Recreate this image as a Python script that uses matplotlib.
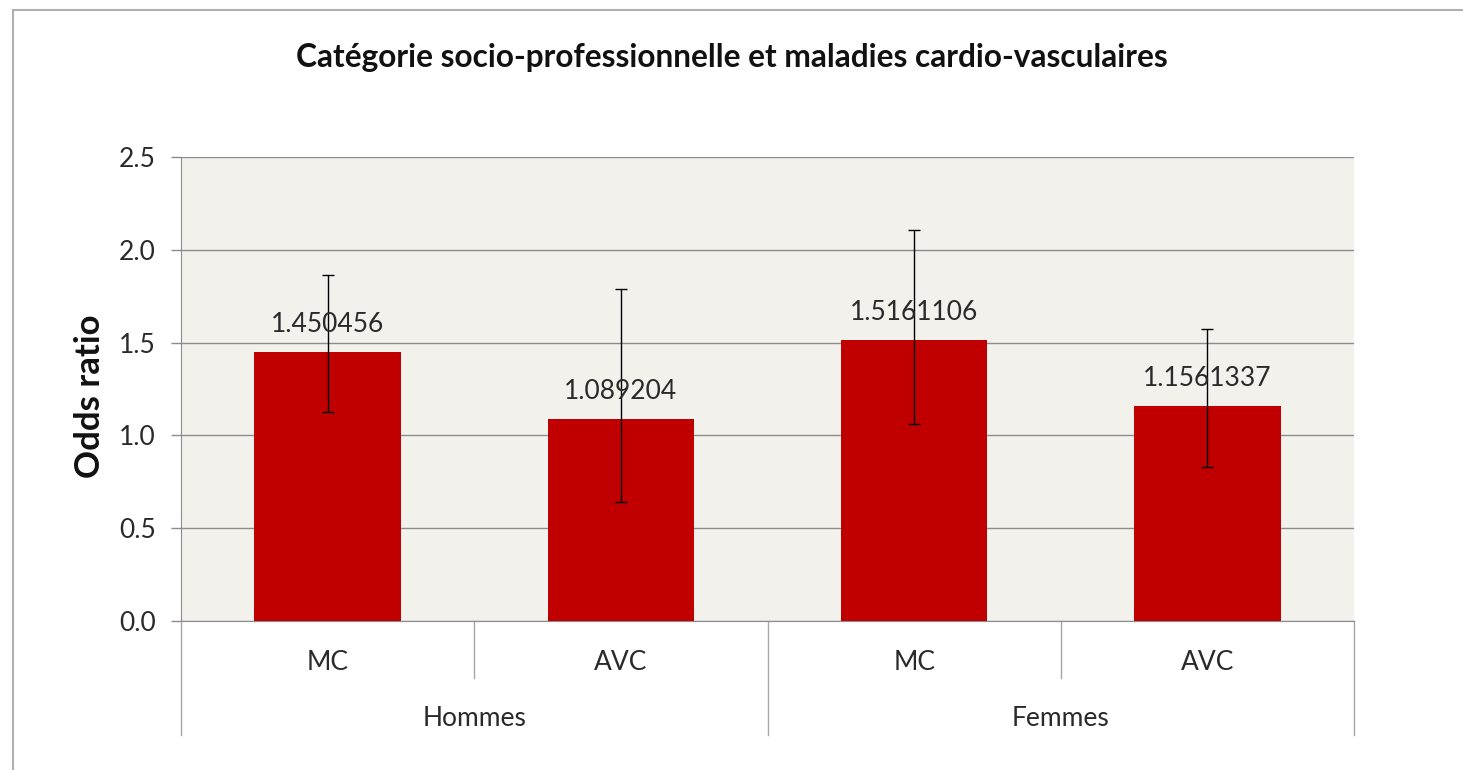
import matplotlib
matplotlib.use("Agg")
import matplotlib.pyplot as plt
from matplotlib.lines import Line2D
import numpy as np

plt.rcParams['font.family'] = ['Lato', 'DejaVu Sans']

title = "Catégorie socio-professionnelle et maladies cardio-vasculaires"
groups = ["Hommes", "Femmes"]
categories = ["MC", "AVC", "MC", "AVC"]
values = [1.450456, 1.089204, 1.5161106, 1.1561337]
labels = ["1.450456", "1.089204", "1.5161106", "1.1561337"]
ci_low = [1.127, 0.642, 1.060, 0.830]
ci_high = [1.862, 1.791, 2.108, 1.572]
yticks = [0.0, 0.5, 1.0, 1.5, 2.0, 2.5]

W, H = 1463, 770
fig = plt.figure(figsize=(W / 100, H / 100), dpi=100)
fig.patch.set_facecolor("white")

ax = fig.add_axes([181 / W, 1 - 621 / H, (1354 - 181) / W, (621 - 157) / H])
ax.set_facecolor("#F3F1EC")

x = np.arange(len(values))
vals = np.array(values)
err = np.array([vals - np.array(ci_low), np.array(ci_high) - vals])
ax.bar(x, vals, width=0.5, color="#C00000", zorder=3)
ax.errorbar(x, vals, yerr=err, fmt="none", ecolor="black", elinewidth=1.0,
            capsize=4.5, capthick=1.0, zorder=4)

FS = 19
TXT = "#2A2A2A"
for xi, v, lab in zip(x, vals, labels):
    ax.annotate(lab, (xi, v), xytext=(0, 14.4), textcoords="offset points",
                ha="center", va="baseline", fontsize=FS, color=TXT, zorder=5)

ax.set_xlim(-0.5, len(values) - 0.5)
ax.set_ylim(0, 2.5)
ax.set_yticks(yticks)
ax.set_yticklabels([f"{t:.1f}" for t in yticks], fontsize=FS, color=TXT)
ax.yaxis.grid(True, color="#8C8C8C", linewidth=1.0, zorder=0)
ax.set_axisbelow(True)
ax.tick_params(axis="y", length=7, width=1, color="#8C8C8C", pad=11)
ax.set_xticks([])
for s in ["top", "right"]:
    ax.spines[s].set_visible(False)
ax.spines["left"].set_color("#8C8C8C")
ax.spines["bottom"].set_color("#8C8C8C")

fig.text(90 / W, 1 - 396 / H, "Odds ratio", rotation=90, ha="center", va="center",
         fontsize=25, fontweight="bold", color="#111111")

# Category labels and group separators (below the axis)
trans = ax.get_xaxis_transform()
for xi, c in zip(x, categories):
    ax.text(xi, -0.09, c, transform=trans, ha="center", va="center",
            fontsize=FS, color=TXT)
ng = len(groups)
per = len(categories) // ng
for gi, g in enumerate(groups):
    cx = gi * per + (per - 1) / 2
    ax.text(cx, -0.21, g, transform=trans, ha="center", va="center",
            fontsize=FS, color=TXT)
for b in np.arange(-0.5, len(categories), 1.0):
    is_group = abs(((b + 0.5) % per)) < 1e-9
    y_end = -0.245 if is_group else -0.123
    ax.add_line(Line2D([b, b], [0, y_end], transform=trans, color="#A6A6A6",
                       linewidth=1.0, clip_on=False))

fig.text(732 / W, 1 - 57 / H, title, ha="center", va="center",
         fontsize=22.8, fontweight="bold", color="#111111")

# Outer chart frame (top and left edges visible)
fig.add_artist(Line2D([13 / W, 1.0], [1 - 10 / H, 1 - 10 / H], transform=fig.transFigure,
                      color="#B0B0B0", linewidth=1.5))
fig.add_artist(Line2D([13 / W, 13 / W], [0.0, 1 - 10 / H], transform=fig.transFigure,
                      color="#B0B0B0", linewidth=1.5))

fig.savefig("out.png", dpi=100, facecolor="white")
